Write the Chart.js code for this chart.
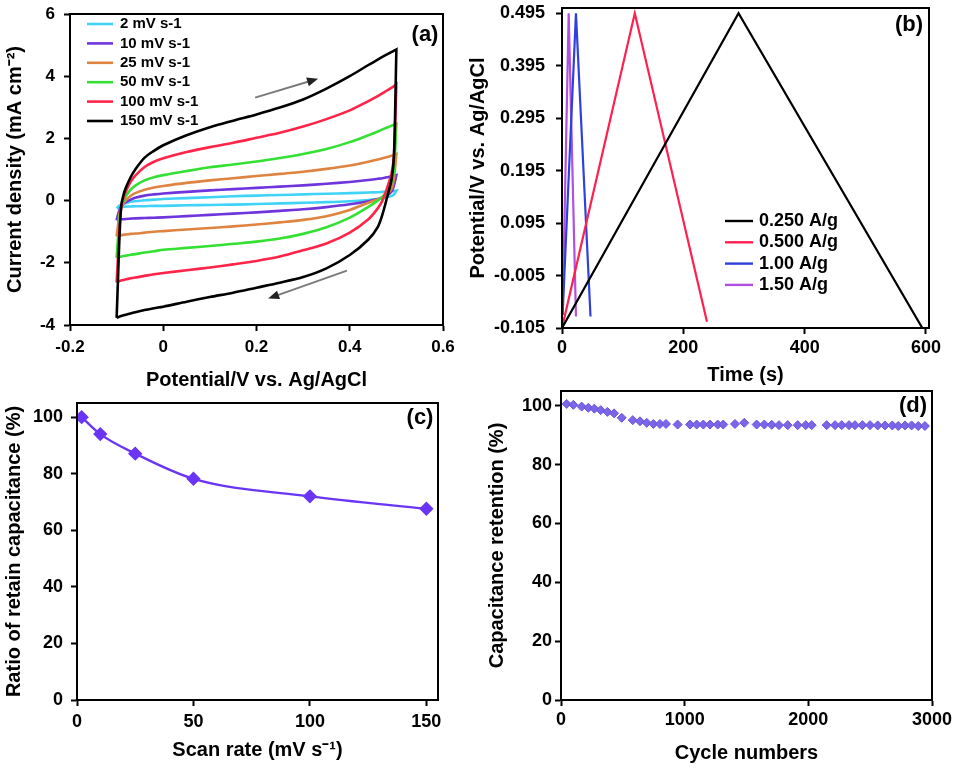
<!DOCTYPE html>
<html><head><meta charset="utf-8">
<script src="https://cdn.jsdelivr.net/npm/chart.js@4/dist/chart.umd.min.js"></script>
<style>
html,body{margin:0;padding:0;background:#fff;}
#wrap{position:relative;width:956px;height:769px;overflow:hidden;background:#fff;}
canvas{position:absolute;left:-20px;top:-20px;}
</style></head><body><div id="wrap">
<canvas id="ca" width="996" height="809"></canvas>
<canvas id="cb" width="996" height="809"></canvas>
<canvas id="cc" width="996" height="809"></canvas>
<canvas id="cd" width="996" height="809"></canvas>
</div>
<script>
// ---------- (a) cyclic voltammetry ----------
const cvPotential = [-0.1, -0.097, -0.094, -0.09, -0.085, -0.08, -0.07, -0.06, -0.04, -0.02, 0, 0.05, 0.1, 0.15, 0.2, 0.25, 0.3, 0.35, 0.4, 0.44, 0.46, 0.47, 0.48, 0.49, 0.495, 0.5];
const cvLabels = ['2 mV s-1', '10 mV s-1', '25 mV s-1', '50 mV s-1', '100 mV s-1', '150 mV s-1'];
const cvForward2   = [-0.25, -0.2, -0.16, -0.13, -0.1, -0.08, -0.04, -0.02, 0.01, 0.03, 0.05, 0.08, 0.11, 0.14, 0.16, 0.18, 0.2, 0.22, 0.24, 0.26, 0.27, 0.28, 0.29, 0.3, 0.31, 0.32];
const cvReverse2   = [-0.25, -0.22, -0.21, -0.2, -0.2, -0.19, -0.19, -0.18, -0.18, -0.17, -0.17, -0.15, -0.14, -0.13, -0.11, -0.09, -0.07, -0.05, -0.02, 0.02, 0.05, 0.07, 0.1, 0.15, 0.2, 0.32];
const cvForward10  = [-0.63, -0.45, -0.3, -0.18, -0.1, -0.05, 0.03, 0.09, 0.16, 0.2, 0.23, 0.28, 0.33, 0.37, 0.41, 0.45, 0.49, 0.54, 0.6, 0.66, 0.7, 0.72, 0.75, 0.78, 0.8, 0.82];
const cvReverse10  = [-0.63, -0.62, -0.61, -0.6, -0.6, -0.59, -0.58, -0.57, -0.56, -0.55, -0.54, -0.5, -0.46, -0.42, -0.38, -0.33, -0.28, -0.21, -0.12, -0.02, 0.05, 0.1, 0.16, 0.3, 0.5, 0.82];
const cvForward25  = [-1.15, -0.8, -0.45, -0.2, -0.08, 0.02, 0.15, 0.24, 0.35, 0.42, 0.47, 0.57, 0.65, 0.72, 0.79, 0.86, 0.93, 1.02, 1.13, 1.25, 1.32, 1.36, 1.4, 1.44, 1.47, 1.5];
const cvReverse25  = [-1.15, -1.13, -1.12, -1.11, -1.1, -1.09, -1.07, -1.06, -1.03, -1.0, -0.98, -0.93, -0.88, -0.83, -0.77, -0.7, -0.62, -0.5, -0.3, -0.07, 0.04, 0.1, 0.2, 0.4, 0.75, 1.5];
const cvForward50  = [-1.84, -1.2, -0.6, -0.2, 0.0, 0.15, 0.35, 0.48, 0.65, 0.75, 0.82, 0.95, 1.07, 1.16, 1.26, 1.37, 1.5, 1.66, 1.88, 2.1, 2.22, 2.29, 2.35, 2.41, 2.44, 2.47];
const cvReverse50  = [-1.84, -1.82, -1.81, -1.8, -1.78, -1.77, -1.74, -1.72, -1.67, -1.63, -1.58, -1.52, -1.46, -1.39, -1.32, -1.22, -1.07, -0.86, -0.55, -0.2, 0.0, 0.12, 0.3, 0.6, 1.0, 2.47];
const cvForward100 = [-2.63, -1.8, -0.9, -0.2, 0.1, 0.3, 0.6, 0.8, 1.08, 1.25, 1.36, 1.56, 1.72, 1.86, 2.02, 2.18, 2.38, 2.62, 2.9, 3.2, 3.36, 3.45, 3.54, 3.63, 3.68, 3.74];
const cvReverse100 = [-2.63, -2.61, -2.59, -2.57, -2.55, -2.53, -2.5, -2.47, -2.42, -2.37, -2.33, -2.24, -2.15, -2.05, -1.94, -1.8, -1.6, -1.38, -1.03, -0.6, -0.25, 0.0, 0.4, 0.9, 1.5, 3.74];
const cvForward150 = [-3.77, -2.5, -1.2, -0.15, 0.2, 0.42, 0.75, 1.0, 1.38, 1.6, 1.78, 2.1, 2.36, 2.57, 2.77, 2.99, 3.25, 3.6, 4.0, 4.36, 4.53, 4.62, 4.7, 4.78, 4.82, 4.86];
const cvReverse150 = [-3.77, -3.75, -3.73, -3.71, -3.69, -3.67, -3.63, -3.59, -3.52, -3.46, -3.41, -3.25, -3.1, -2.96, -2.8, -2.64, -2.46, -2.18, -1.75, -1.25, -0.85, -0.45, 0.1, 0.7, 1.5, 4.86];
const cvXTicks = [-0.2, 0, 0.2, 0.4, 0.6];
const cvYTicks = [-4, -2, 0, 2, 4, 6];
const cvArrows = [[0.197, 3.31, 0.332, 3.92], [0.394, -2.25, 0.225, -3.15]];

// ---------- (b) galvanostatic charge/discharge ----------
const gcdLabels = ['0.250 A/g', '0.500 A/g', '1.00 A/g', '1.50 A/g'];
const gcdTime025 = [0, 291, 594];
const gcdPot025  = [-0.105, 0.495, -0.105];
const gcdTime050 = [0, 120, 239];
const gcdPot050  = [-0.105, 0.495, -0.093];
const gcdTime100 = [1, 23, 47];
const gcdPot100  = [-0.08, 0.495, -0.083];
const gcdTime150 = [1, 11, 23];
const gcdPot150  = [-0.08, 0.495, -0.083];
const gcdXTicks = [0, 200, 400, 600];
const gcdYTicks = [-0.105, -0.005, 0.095, 0.195, 0.295, 0.395, 0.495];

// ---------- (c) rate capability ----------
const scanRates = [2, 10, 25, 50, 100, 150];
const retainRatio = [100, 94, 87.1, 78.2, 72, 67.6];
const rateXTicks = [0, 50, 100, 150];

// ---------- (d) cycling stability ----------
const cycleNumbers = [46, 100, 167, 221, 270, 321, 375, 429, 491, 580, 639, 693, 747, 800, 849, 943, 1043, 1097, 1151, 1205, 1267, 1312, 1407, 1482, 1582, 1644, 1704, 1763, 1833, 1914, 1979, 2027, 2148, 2216, 2270, 2329, 2377, 2437, 2499, 2561, 2620, 2679, 2727, 2782, 2835, 2889, 2943];
const retention = [100.6, 100.3, 99.7, 99.3, 99.0, 98.5, 97.9, 97.4, 95.9, 95.1, 94.7, 94.2, 93.8, 93.8, 93.8, 93.6, 93.6, 93.6, 93.6, 93.6, 93.6, 93.6, 93.8, 94.2, 93.6, 93.6, 93.5, 93.4, 93.4, 93.4, 93.4, 93.4, 93.4, 93.4, 93.4, 93.4, 93.4, 93.4, 93.4, 93.3, 93.3, 93.3, 93.1, 93.3, 93.3, 93.1, 93.1];
const cycleXTicks = [0, 1000, 2000, 3000];
const pctYTicks = [0, 20, 40, 60, 80, 100];

// ---------- helpers ----------
const OFF = 20, CW = 996, CH = 809;
const FONT = "'Liberation Sans', Arial, Helvetica, sans-serif";
Chart.defaults.font.family = FONT;
Chart.defaults.color = '#000';

function axis(c) {
  return {
    type: 'linear', position: c.position, min: c.min, max: c.max,
    afterBuildTicks: s => { s.ticks = c.ticks.map(v => ({ value: v })); },
    afterFit: s => { if (c.position === 'bottom') s.height = c.size; else s.width = c.size; },
    ticks: { color: '#000', font: { family: FONT, weight: 'bold', size: c.tickSize }, padding: c.tickPad,
             autoSkip: false, maxRotation: 0, callback: c.fmt || (v => String(v)) },
    grid: { display: true, drawOnChartArea: false, drawTicks: true, tickLength: 6, tickWidth: 2, tickColor: '#000' },
    border: { display: true, color: '#000', width: 2 },
    title: { display: true, text: c.title, color: '#000', font: { family: FONT, weight: 'bold', size: c.titleSize },
             padding: c.position === 'bottom' ? { top: 0, bottom: c.titlePad } : { top: c.titlePad, bottom: 0 } }
  };
}
function layout(p) { // p: YL, L, T, R, B, XB in page pixels
  return { padding: { left: p.YL + OFF, top: p.T + OFF, right: CW - (p.R + OFF), bottom: CH - (p.XB + OFF) } };
}
const framePlugin = { id: 'frame', afterDraw(ch) {
  const a = ch.chartArea, ctx = ch.ctx; ctx.save(); ctx.strokeStyle = '#000'; ctx.lineWidth = 2;
  ctx.strokeRect(a.left, a.top, a.right - a.left, a.bottom - a.top); ctx.restore(); } };
function panelLabel(text, dx, dy) { return { id: 'plabel' + text, afterDraw(ch) {
  const a = ch.chartArea, ctx = ch.ctx; ctx.save(); ctx.fillStyle = '#000';
  ctx.font = 'bold 22px ' + FONT; ctx.textAlign = 'center'; ctx.textBaseline = 'middle';
  ctx.fillText(text, a.right - dx, a.top + dy); ctx.restore(); } }; }
function legendPlugin(id, labels, colors, x1, x2, tx, y0, dy, fontSize, lw) { return { id, afterDraw(ch) {
  const a = ch.chartArea, ctx = ch.ctx; ctx.save();
  labels.forEach((lab, i) => {
    const y = a.top + y0 + i * dy;
    ctx.strokeStyle = colors[i]; ctx.lineWidth = lw; ctx.beginPath();
    ctx.moveTo(a.left + x1, y); ctx.lineTo(a.left + x2, y); ctx.stroke();
    ctx.fillStyle = '#000'; ctx.font = 'bold ' + fontSize + 'px ' + FONT; ctx.textBaseline = 'middle'; ctx.textAlign = 'left';
    ctx.fillText(lab, a.left + tx, y);
  }); ctx.restore(); } }; }

// ---------- chart (a) ----------
const cvColors = ['#3fd3f7', '#6f35dd', '#df8340', '#33e033', '#ff2448', '#000000'];
const cvForward = [cvForward2, cvForward10, cvForward25, cvForward50, cvForward100, cvForward150];
const cvReverse = [cvReverse2, cvReverse10, cvReverse25, cvReverse50, cvReverse100, cvReverse150];
function loop(fw, rv) {
  const pts = cvPotential.map((e, i) => ({ x: e, y: fw[i] }));
  for (let i = cvPotential.length - 1; i >= 0; i--) pts.push({ x: cvPotential[i], y: rv[i] });
  return pts;
}
const cvDatasets = cvLabels.map((lab, i) => ({
  label: lab, data: loop(cvForward[i], cvReverse[i]), showLine: true, borderColor: cvColors[i],
  backgroundColor: cvColors[i], borderWidth: 2.6, pointRadius: 0, tension: 0.3
})).reverse();
const arrowPlugin = { id: 'arrows', afterDatasetsDraw(ch) {
  const xs = ch.scales.x, ys = ch.scales.y, ctx = ch.ctx; ctx.save();
  cvArrows.forEach(([x1, y1, x2, y2]) => {
    const p1 = [xs.getPixelForValue(x1), ys.getPixelForValue(y1)], p2 = [xs.getPixelForValue(x2), ys.getPixelForValue(y2)];
    const ang = Math.atan2(p2[1] - p1[1], p2[0] - p1[0]);
    ctx.strokeStyle = '#7a7a7a'; ctx.lineWidth = 2; ctx.beginPath(); ctx.moveTo(p1[0], p1[1]);
    ctx.lineTo(p2[0] - 8 * Math.cos(ang), p2[1] - 8 * Math.sin(ang)); ctx.stroke();
    ctx.fillStyle = '#222'; ctx.beginPath(); ctx.moveTo(p2[0], p2[1]);
    ctx.lineTo(p2[0] - 11 * Math.cos(ang) + 4.5 * Math.sin(ang), p2[1] - 11 * Math.sin(ang) - 4.5 * Math.cos(ang));
    ctx.lineTo(p2[0] - 11 * Math.cos(ang) - 4.5 * Math.sin(ang), p2[1] - 11 * Math.sin(ang) + 4.5 * Math.cos(ang));
    ctx.closePath(); ctx.fill();
  }); ctx.restore(); } };

new Chart(document.getElementById('ca'), {
  type: 'scatter', data: { datasets: cvDatasets },
  options: {
    responsive: false, animation: false, events: [],
    layout: layout({ YL: 0, L: 70, T: 14, R: 443, B: 325, XB: 392 }),
    plugins: { legend: { display: false }, tooltip: { enabled: false } },
    scales: {
      x: axis({ position: 'bottom', min: -0.2, max: 0.6, ticks: cvXTicks, size: 67, tickSize: 17, tickPad: 6,
                fmt: v => v === 0 ? '0' : v.toFixed(1), title: 'Potential/V vs. Ag/AgCl', titleSize: 20, titlePad: 0 }),
      y: axis({ position: 'left', min: -4, max: 6, ticks: cvYTicks, size: 70, tickSize: 17, tickPad: 9,
                title: 'Current density (mA cm\u207B\u00B2)', titleSize: 20, titlePad: 3 })
    }
  },
  plugins: [framePlugin, arrowPlugin, panelLabel('(a)', 18, 21),
            legendPlugin('lega', cvLabels, cvColors, 17, 43, 50, 10, 19.4, 15, 2.6)]
});

// ---------- chart (b) ----------
const gcdColors = ['#000000', '#ff2050', '#3040dd', '#b050e0'];
const gcdT = [gcdTime025, gcdTime050, gcdTime100, gcdTime150];
const gcdV = [gcdPot025, gcdPot050, gcdPot100, gcdPot150];
new Chart(document.getElementById('cb'), {
  type: 'scatter',
  data: { datasets: gcdLabels.map((lab, i) => ({ label: lab, data: gcdT[i].map((t, j) => ({ x: t, y: gcdV[i][j] })),
          showLine: true, borderColor: gcdColors[i], backgroundColor: gcdColors[i], borderWidth: 2.2, pointRadius: 0 })) },
  options: {
    responsive: false, animation: false, events: [],
    layout: layout({ YL: 464, L: 562, T: 8, R: 929, B: 328, XB: 387 }),
    plugins: { legend: { display: false }, tooltip: { enabled: false } },
    scales: {
      x: axis({ position: 'bottom', min: 0, max: 605, ticks: gcdXTicks, size: 59, tickSize: 18, tickPad: 3,
                title: 'Time (s)', titleSize: 20, titlePad: 0 }),
      y: axis({ position: 'left', min: -0.105, max: 0.505, ticks: gcdYTicks, size: 98, tickSize: 18, tickPad: 11,
                fmt: v => v.toFixed(3), title: 'Potential/V vs. Ag/AgCl', titleSize: 20, titlePad: 2 })
    }
  },
  plugins: [framePlugin, panelLabel('(b)', 20, 17),
            legendPlugin('legb', gcdLabels, gcdColors, 163, 191, 197, 213, 21.3, 18, 2.4)]
});

// ---------- chart (c) ----------
new Chart(document.getElementById('cc'), {
  type: 'scatter',
  data: { datasets: [{ data: scanRates.map((r, i) => ({ x: r, y: retainRatio[i] })), showLine: true,
          borderColor: '#6a35f5', backgroundColor: '#6a35f5', borderWidth: 2.4, pointStyle: 'rectRot',
          pointRadius: 5.5, cubicInterpolationMode: 'monotone' }] },
  options: {
    responsive: false, animation: false, events: [],
    layout: layout({ YL: 0, L: 77, T: 403, R: 438, B: 700, XB: 762 }),
    plugins: { legend: { display: false }, tooltip: { enabled: false } },
    scales: {
      x: axis({ position: 'bottom', min: 0, max: 155, ticks: rateXTicks, size: 62, tickSize: 18, tickPad: 5,
                title: 'Scan rate (mV s\u207B\u00B9)', titleSize: 20, titlePad: 0 }),
      y: axis({ position: 'left', min: 0, max: 105, ticks: pctYTicks, size: 77, tickSize: 18, tickPad: 8,
                title: 'Ratio of retain capacitance (%)', titleSize: 20, titlePad: 2 })
    }
  },
  plugins: [framePlugin, panelLabel('(c)', 18, 15)]
});

// ---------- chart (d) ----------
new Chart(document.getElementById('cd'), {
  type: 'scatter',
  data: { datasets: [{ data: cycleNumbers.map((c, i) => ({ x: c, y: retention[i] })), showLine: false,
          borderColor: '#6a55dd', backgroundColor: '#7a66e6', borderWidth: 1, pointStyle: 'rectRot', pointRadius: 4.5 }] },
  options: {
    responsive: false, animation: false, events: [],
    layout: layout({ YL: 483, L: 561, T: 391, R: 932, B: 700, XB: 765 }),
    plugins: { legend: { display: false }, tooltip: { enabled: false } },
    scales: {
      x: axis({ position: 'bottom', min: 0, max: 3000, ticks: cycleXTicks, size: 65, tickSize: 18, tickPad: 3,
                title: 'Cycle numbers', titleSize: 20, titlePad: 0 }),
      y: axis({ position: 'left', min: 0, max: 105, ticks: pctYTicks, size: 78, tickSize: 18, tickPad: 3,
                title: 'Capacitance retention (%)', titleSize: 20, titlePad: 2 })
    }
  },
  plugins: [framePlugin, panelLabel('(d)', 19, 15)]
});
</script></body></html>
